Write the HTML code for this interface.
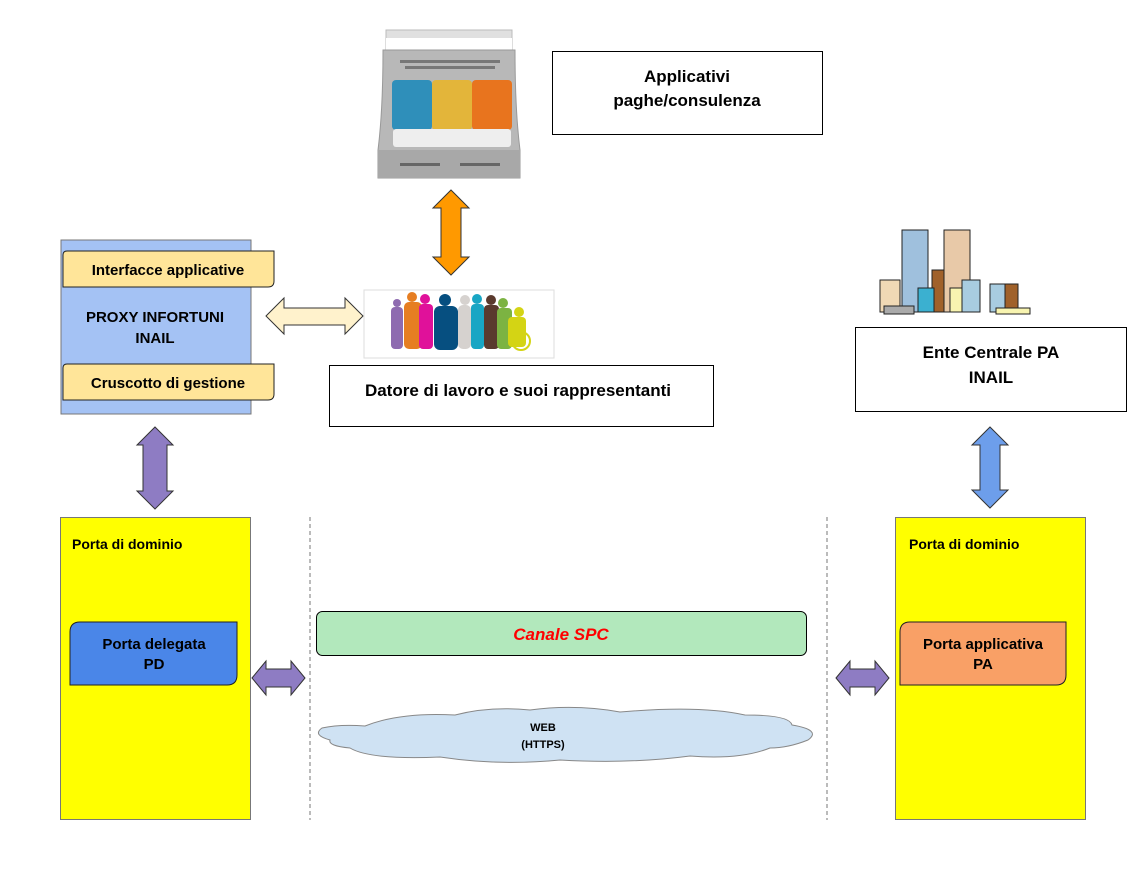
<!DOCTYPE html>
<html><head><meta charset="utf-8"><style>
html,body{margin:0;padding:0;background:#fff}
svg{display:block}
text{font-family:"Liberation Sans",sans-serif;font-weight:bold;fill:#000}
</style></head><body>
<svg width="1148" height="882" viewBox="0 0 1148 882" xmlns="http://www.w3.org/2000/svg">
<!-- top software image -->
<g>
<path d="M386 30 h126 v20 h-126z" fill="#e0e0e0" stroke="#bbb"/>
<rect x="386" y="38" width="126" height="12" fill="#fff"/>
<path d="M383 50 h132 q0 60 5 100 v28 h-142 v-28 q5 -40 5 -100z" fill="#b8b8b8" stroke="#999"/>
<rect x="378" y="150" width="142" height="28" fill="#a8a8a8"/>
<rect x="392" y="80" width="40" height="50" rx="4" fill="#2f8fba"/>
<rect x="432" y="80" width="40" height="50" rx="4" fill="#e3b53a"/>
<rect x="472" y="80" width="40" height="50" rx="4" fill="#e8741e"/>
<rect x="393" y="129" width="118" height="18" rx="3" fill="#eee"/>
<rect x="400" y="60" width="100" height="3" fill="#777"/>
<rect x="405" y="66" width="90" height="3" fill="#777"/>
<rect x="400" y="163" width="40" height="3" fill="#666"/>
<rect x="460" y="163" width="40" height="3" fill="#666"/>
</g>
<!-- Applicativi -->
<rect x="552.5" y="51.5" width="270" height="83" fill="#fff" stroke="#000"/>
<text x="687" y="82" font-size="17" text-anchor="middle">Applicativi</text>
<text x="687" y="106" font-size="17" text-anchor="middle">paghe/consulenza</text>
<!-- orange arrow -->
<path d="M451 190 L469 208 H461 V257 H469 L451 275 L433 257 H441 V208 H433 Z" fill="#ff9900" stroke="#333"/>
<!-- proxy -->
<rect x="61" y="240" width="190" height="174" fill="#a4c2f4" stroke="#777"/>
<path d="M67 251 H274 V281 Q274 287 268 287 H63 V255 Q63 251 67 251Z" fill="#ffe599" stroke="#222"/>
<text x="168" y="275" font-size="15" text-anchor="middle">Interfacce applicative</text>
<path d="M67 364 H274 V394 Q274 400 268 400 H63 V368 Q63 364 67 364Z" fill="#ffe599" stroke="#222"/>
<text x="168" y="388" font-size="15" text-anchor="middle">Cruscotto di gestione</text>
<text x="155" y="322" font-size="15" text-anchor="middle">PROXY INFORTUNI</text>
<text x="155" y="343" font-size="15" text-anchor="middle">INAIL</text>
<!-- cream arrow -->
<path d="M266 316 L284 298 V308 H345 V298 L363 316 L345 334 V325 H284 V334 Z" fill="#fff2cc" stroke="#333"/>
<!-- people -->
<rect x="364" y="290" width="190" height="68" fill="#fff" stroke="#ddd"/>
<g>
<circle cx="397" cy="303" r="4" fill="#8e6bb0"/><rect x="391" y="307" width="12" height="42" rx="4" fill="#8e6bb0"/>
<circle cx="412" cy="297" r="5" fill="#e67e22"/><rect x="404" y="302" width="18" height="47" rx="5" fill="#e67e22"/>
<circle cx="425" cy="299" r="5" fill="#e0119a"/><rect x="419" y="304" width="14" height="45" rx="4" fill="#e0119a"/>
<circle cx="445" cy="300" r="6" fill="#064f80"/><rect x="434" y="306" width="24" height="44" rx="6" fill="#064f80"/>
<circle cx="465" cy="300" r="5" fill="#d6d2cf"/><rect x="458" y="305" width="13" height="44" rx="5" fill="#d6d2cf"/>
<circle cx="477" cy="299" r="5" fill="#19a6c4"/><rect x="471" y="304" width="13" height="45" rx="4" fill="#19a6c4"/>
<circle cx="491" cy="300" r="5" fill="#5a3a2e"/><rect x="484" y="305" width="15" height="44" rx="4" fill="#5a3a2e"/>
<circle cx="503" cy="303" r="5" fill="#7cb342"/><rect x="497" y="308" width="15" height="41" rx="4" fill="#7cb342"/>
<circle cx="519" cy="312" r="5" fill="#d4d414"/><rect x="508" y="317" width="18" height="30" rx="4" fill="#d4d414"/>
<circle cx="521" cy="341" r="9" fill="none" stroke="#d4d414" stroke-width="2"/>
</g>
<!-- datore -->
<rect x="329.5" y="365.5" width="384" height="61" fill="#fff" stroke="#000"/>
<text x="518" y="396" font-size="17" text-anchor="middle">Datore di lavoro e suoi rappresentanti</text>
<!-- purple vertical -->
<path d="M155 427 L173 445 H167 V491 H173 L155 509 L137 491 H143 V445 H137 Z" fill="#8e7cc3" stroke="#333"/>
<!-- left yellow -->
<rect x="60.5" y="517.5" width="190" height="302" fill="#ffff00" stroke="#777"/>
<text x="72" y="549" font-size="14">Porta di dominio</text>
<path d="M80 622 H237 V675 Q237 685 227 685 H70 V632 Q70 622 80 622Z" fill="#4a86e8" stroke="#222"/>
<text x="154" y="649" font-size="15" text-anchor="middle">Porta delegata</text>
<text x="154" y="669" font-size="15" text-anchor="middle">PD</text>
<!-- purple horizontal left -->
<path d="M252 678 L266 661 V669 H291 V661 L305 678 L291 695 V687 H266 V695 Z" fill="#8e7cc3" stroke="#333"/>
<!-- dashed -->
<line x1="310" y1="517" x2="310" y2="820" stroke="#777" stroke-dasharray="4,3"/>
<line x1="827" y1="517" x2="827" y2="820" stroke="#777" stroke-dasharray="4,3"/>
<!-- canale -->
<rect x="316.5" y="611.5" width="490" height="44" rx="6" fill="#b2e8bc" stroke="#000"/>
<text x="561" y="640" font-size="17" text-anchor="middle" font-style="italic" fill="#ff0000" style="fill:#ff0000">Canale SPC</text>
<!-- cloud -->
<path d="M365 726 Q400 712 455 715 Q490 706 530 710 Q575 704 620 712 Q700 705 745 715 Q790 715 792 725 Q822 730 808 740 Q788 748 770 748 Q740 760 690 756 Q630 764 560 760 Q500 766 440 757 Q370 760 350 748 Q328 746 330 740 Q312 735 322 728 Q340 724 365 726Z" fill="#cfe2f3" stroke="#888"/>
<text x="543" y="731" font-size="11" text-anchor="middle">WEB</text>
<text x="543" y="748" font-size="11" text-anchor="middle">(HTTPS)</text>
<!-- city -->
<g stroke="#222" stroke-width="1">
<rect x="880" y="280" width="20" height="32" fill="#f0d9b5"/>
<rect x="902" y="230" width="26" height="82" fill="#9fc0dd"/>
<rect x="944" y="230" width="26" height="82" fill="#e8c9a8"/>
<rect x="932" y="270" width="12" height="42" fill="#a0612a"/>
<rect x="918" y="288" width="16" height="24" fill="#3bb0d0"/>
<rect x="950" y="288" width="16" height="24" fill="#f8f4b0"/>
<rect x="962" y="280" width="18" height="32" fill="#a8cce0"/>
<rect x="990" y="284" width="28" height="28" fill="#a8cce0"/>
<rect x="1005" y="284" width="13" height="28" fill="#a0612a"/>
<rect x="884" y="306" width="30" height="8" fill="#aaa"/>
<rect x="996" y="308" width="34" height="6" fill="#f8f4b0"/>
</g>
<!-- ente -->
<rect x="855.5" y="327.5" width="271" height="84" fill="#fff" stroke="#000"/>
<text x="991" y="358" font-size="17" text-anchor="middle">Ente Centrale PA</text>
<text x="991" y="383" font-size="17" text-anchor="middle">INAIL</text>
<!-- blue arrow -->
<path d="M990 427 L1008 445 H1000 V490 H1008 L990 508 L972 490 H980 V445 H972 Z" fill="#6d9eeb" stroke="#333"/>
<!-- right yellow -->
<rect x="895.5" y="517.5" width="190" height="302" fill="#ffff00" stroke="#777"/>
<text x="909" y="549" font-size="14">Porta di dominio</text>
<path d="M910 622 H1066 V675 Q1066 685 1056 685 H900 V632 Q900 622 910 622Z" fill="#f9a066" stroke="#222"/>
<text x="983" y="649" font-size="15" text-anchor="middle">Porta applicativa</text>
<text x="983" y="669" font-size="15" text-anchor="middle">PA</text>
<!-- purple horizontal right -->
<path d="M836 678 L850 661 V669 H875 V661 L889 678 L875 695 V687 H850 V695 Z" fill="#8e7cc3" stroke="#333"/>
</svg>
</body></html>
